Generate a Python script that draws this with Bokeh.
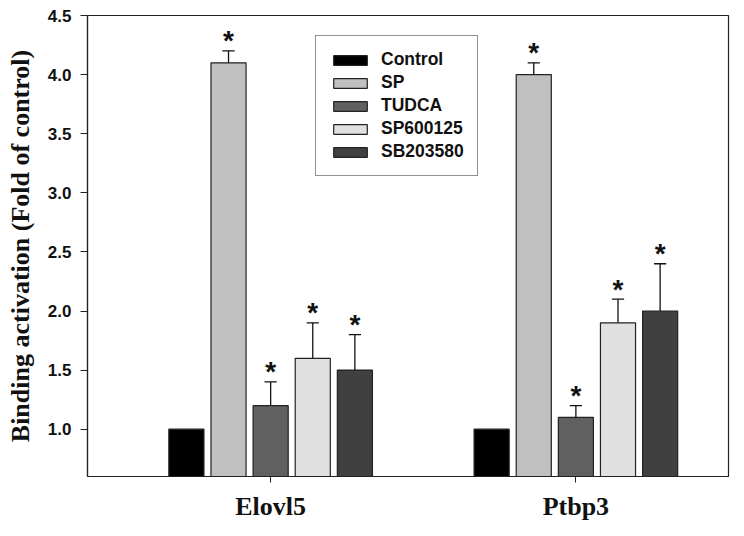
from bokeh.plotting import figure
from bokeh.models import (ColumnDataSource, FixedTicker, PrintfTickFormatter,
                          Legend, LegendItem)
from bokeh.core.properties import value
from bokeh.embed import file_html
from bokeh.resources import INLINE

# Binding activation per gene and treatment (fold of control), with SEM
genes = ["Elovl5", "Ptbp3"]
treatments = ["Control", "SP", "TUDCA", "SP600125", "SB203580"]
colors = ["#000000", "#c0c0c0", "#606060", "#e0e0e0", "#404040"]
elovl5_mean = [1.0, 4.1, 1.2, 1.6, 1.5]
elovl5_err = [0.0, 0.1, 0.2, 0.3, 0.3]
ptbp3_mean = [1.0, 4.0, 1.1, 1.9, 2.0]
ptbp3_err = [0.0, 0.1, 0.1, 0.2, 0.4]
significant = [False, True, True, True, True]
y_ticks = [1.0, 1.5, 2.0, 2.5, 3.0, 3.5, 4.0, 4.5]

Y0, Y1 = 0.6, 4.5
group_pos = [1, 2]
step = 0.138
bar_w = 0.115
cap_half = 0.02

means = [elovl5_mean, ptbp3_mean]
errs = [elovl5_err, ptbp3_err]

p = figure(width=744, height=536, output_backend="svg", toolbar_location=None,
           x_range=(0.4, 2.5), y_range=(Y0, Y1),
           min_border_left=87, min_border_right=16,
           min_border_top=15, min_border_bottom=60)
p.grid.visible = False
p.outline_line_color = "#222222"
p.outline_line_width = 1.2
p.background_fill_color = "white"
p.border_fill_color = "white"

legend_items = []
for i, t in enumerate(treatments):
    xs = [g + (i - 2) * step for g in group_pos]
    tops = [m[i] for m in means]
    src = ColumnDataSource(dict(x=xs, top=tops, bottom=[Y0] * len(xs)))
    r = p.vbar(x="x", top="top", bottom="bottom", width=bar_w, source=src,
               fill_color=colors[i], line_color="#222222", line_width=1.2)
    legend_items.append(LegendItem(label=t, renderers=[r]))

    # error bars: upward whisker with a cap
    ex, e0, e1 = [], [], []
    for gi, g in enumerate(group_pos):
        if errs[gi][i] > 0:
            ex.append(xs[gi])
            e0.append(means[gi][i])
            e1.append(means[gi][i] + errs[gi][i])
    if ex:
        p.segment(x0=ex, y0=e0, x1=ex, y1=e1, line_color="#111111", line_width=1.3)
        p.segment(x0=[x - cap_half for x in ex], y0=e1,
                  x1=[x + cap_half for x in ex], y1=e1,
                  line_color="#111111", line_width=1.3)

    # significance markers
    if significant[i]:
        sy = [means[gi][i] + errs[gi][i] for gi in range(len(group_pos))]
        p.text(x=xs, y=sy, text=["*"] * len(xs), text_align="center",
               text_baseline="alphabetic", y_offset=-10,
               text_font=value("Liberation Sans"), text_font_style="bold",
               text_font_size="28px", text_color="#111111")

legend = Legend(items=legend_items, location=(228, 300),
                glyph_width=42, glyph_height=12, label_standoff=10,
                label_height=19, spacing=2, padding=13, margin=0,
                label_text_font="Liberation Sans", label_text_font_style="bold",
                label_text_font_size="17.5px", label_text_color="#111111",
                border_line_color="#222222", border_line_width=1.2,
                background_fill_color="white", background_fill_alpha=1.0)
p.add_layout(legend, "center")

# y axis
p.yaxis.ticker = FixedTicker(ticks=y_ticks)
p.yaxis.formatter = PrintfTickFormatter(format="%.1f")
p.yaxis.minor_tick_line_color = None
p.yaxis.major_tick_out = 7
p.yaxis.major_tick_in = 0
p.yaxis.axis_line_color = "#222222"
p.yaxis.major_tick_line_color = "#222222"
p.yaxis.axis_line_width = 1.2
p.yaxis.major_label_text_font = "Liberation Sans"
p.yaxis.major_label_text_font_style = "bold"
p.yaxis.major_label_text_font_size = "17px"
p.yaxis.major_label_text_color = "#111111"
p.yaxis.major_label_standoff = 9
p.yaxis.axis_label = "Binding activation (Fold of control)"
p.yaxis.axis_label_text_font = "Liberation Serif"
p.yaxis.axis_label_text_font_style = "bold"
p.yaxis.axis_label_text_font_size = "26px"
p.yaxis.axis_label_text_color = "#111111"
p.yaxis.axis_label_standoff = 10

# x axis
p.xaxis.ticker = FixedTicker(ticks=group_pos)
p.xaxis.major_label_overrides = {g: name for g, name in zip(group_pos, genes)}
p.xaxis.minor_tick_line_color = None
p.xaxis.major_tick_out = 6
p.xaxis.major_tick_in = 0
p.xaxis.axis_line_color = "#222222"
p.xaxis.major_tick_line_color = "#222222"
p.xaxis.axis_line_width = 1.2
p.xaxis.major_label_text_font = "Liberation Serif"
p.xaxis.major_label_text_font_style = "bold"
p.xaxis.major_label_text_font_size = "26px"
p.xaxis.major_label_text_color = "#111111"
p.xaxis.major_label_standoff = 9

open("out.html", "w").write(file_html(p, INLINE))
